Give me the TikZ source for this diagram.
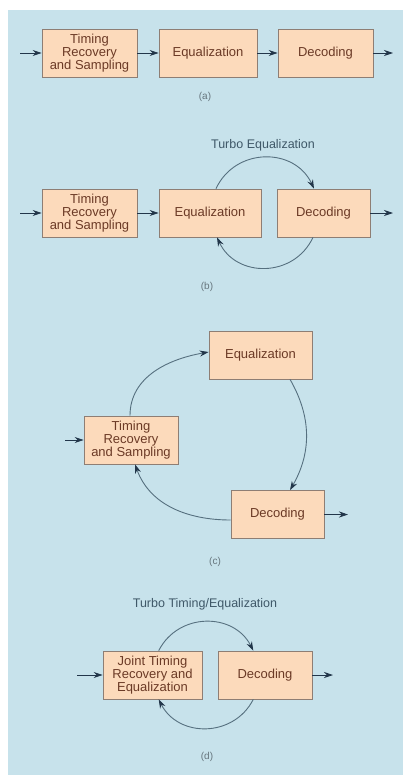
\documentclass[tikz,border=0pt]{standalone}
\usepackage{fontspec}
\setmainfont{Liberation Sans}
\usetikzlibrary{arrows.meta}
\definecolor{panel}{HTML}{C7E2EB}
\definecolor{boxfill}{HTML}{FCDABB}
\definecolor{boxline}{HTML}{8E7E74}
\definecolor{boxtext}{HTML}{6B3A26}
\definecolor{arrowc}{HTML}{22364A}
\definecolor{arcc}{HTML}{56707F}
\definecolor{labelc}{HTML}{66757D}
\definecolor{titlec}{HTML}{3F5868}
\tikzset{
  blk/.style={draw=boxline, line width=0.7pt, fill=boxfill, text=boxtext,
    font=\fontsize{13}{13.3}\selectfont, align=center, inner sep=0pt, minimum height=48pt},
  flow/.style={draw=arrowc, line width=0.8pt, -{Stealth[length=9pt,width=6pt,color=arrowc]}},
  loopc/.style={draw=arcc, line width=0.9pt, -{Stealth[length=9pt,width=6pt,color=arrowc]}},
  sublbl/.style={text=labelc, font=\fontsize{10}{11}\selectfont},
  ttl/.style={text=titlec, font=\fontsize{12.5}{14}\selectfont},
}
\begin{document}
\begin{tikzpicture}[x=1pt,y=1pt]
\useasboundingbox (0,0) rectangle (403,-781);
\fill[white] (0,0) rectangle (403,-781);
\fill[panel] (8,-10) rectangle (403,-775);

% (a)
\node[blk, minimum width=95pt] (ta) at (89.5,-53) {Timing\\Recovery\\and Sampling};
\node[blk, minimum width=98pt] (ea) at (208,-53) {Equalization};
\node[blk, minimum width=95pt] (da) at (325.5,-53) {Decoding};
\coordinate (ina) at (20,-53);
\coordinate (outa) at (393,-53);
\draw[flow] (ina) -- (ta);
\draw[flow] (ta) -- (ea);
\draw[flow] (ea) -- (da);
\draw[flow] (da) -- (outa);
\node[sublbl] (la) at (205,-97) {(a)};

% (b)
\node[ttl] (tlb) at (263,-145) {Turbo Equalization};
\node[blk, minimum width=95pt] (tb) at (89.5,-213) {Timing\\Recovery\\and Sampling};
\node[blk, minimum width=102pt] (eb) at (210,-213) {Equalization};
\node[blk, minimum width=93pt] (db) at (323.5,-213) {Decoding};
\coordinate (inb) at (20,-213);
\coordinate (outb) at (393,-213);
\draw[flow] (inb) -- (tb);
\draw[flow] (tb) -- (eb);
\draw[flow] (db) -- (outb);
\draw[loopc] ([xshift=6pt]eb.north) to[out=65,in=115,looseness=1.2] ([xshift=-9.5pt]db.north);
\draw[loopc] ([xshift=-10.5pt]db.south) to[out=-115,in=-65,looseness=1.2] ([xshift=7pt]eb.south);
\node[sublbl] (lb) at (207,-287) {(b)};

% (c)
\node[blk, minimum width=103pt] (ec) at (260.5,-355) {Equalization};
\node[blk, minimum width=94pt] (tc) at (131,-440) {Timing\\Recovery\\and Sampling};
\node[blk, minimum width=93pt] (dc) at (277.5,-514.5) {Decoding};
\coordinate (inc) at (65,-440);
\coordinate (outc) at (348,-514.5);
\draw[flow] (inc) -- (tc);
\draw[flow] (dc) -- (outc);
\draw[loopc] ([xshift=-1pt]tc.north) to[out=90,in=190] ([yshift=3pt]ec.west);
\draw[loopc] ([xshift=29.5pt]ec.south) to[out=-60,in=60] ([xshift=12.5pt]dc.north);
\draw[loopc] ([yshift=-5.5pt]dc.west) to[out=180,in=-70] ([xshift=4pt]tc.south);
\node[sublbl] (lc) at (215,-562) {(c)};

% (d)
\node[ttl] (tld) at (205,-604) {Turbo Timing/Equalization};
\node[blk, minimum width=99pt] (jd) at (152.5,-675) {Joint Timing\\Recovery and\\Equalization};
\node[blk, minimum width=94pt] (dd) at (265,-675) {Decoding};
\coordinate (ind) at (77,-675);
\coordinate (outd) at (333,-675);
\draw[flow] (ind) -- (jd);
\draw[flow] (dd) -- (outd);
\draw[loopc] ([xshift=6.2pt]jd.north) to[out=63,in=117,looseness=1.17] ([xshift=-11.7pt]dd.north);
\draw[loopc] ([xshift=-11.7pt]dd.south) to[out=-117,in=-63,looseness=1.17] ([xshift=6.2pt]jd.south);
\node[sublbl] (ld) at (207,-757) {(d)};
\end{tikzpicture}
\end{document}
